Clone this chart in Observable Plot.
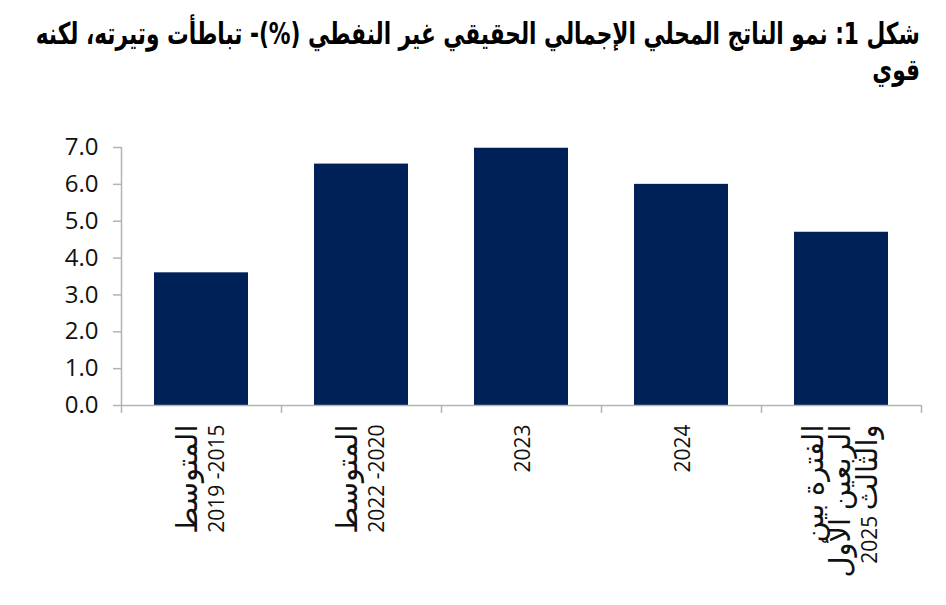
<!DOCTYPE html>
<html><head><meta charset="utf-8">
<script src="https://cdn.jsdelivr.net/npm/d3@7"></script>
<script src="https://cdn.jsdelivr.net/npm/@observablehq/plot@0.6"></script>
<style>
body{margin:0;background:#fff;width:946px;height:605px;overflow:hidden;}
#title{height:100px;position:relative;}
.tline{position:absolute;right:26px;white-space:nowrap;direction:rtl;font-family:"DejaVu Sans",sans-serif;font-weight:bold;font-size:30px;color:#000;transform-origin:100% 0;line-height:1;}
#chart svg{display:block;}
</style></head><body>
<div id="title"></div><div id="chart"></div>
<script>
const titleLines = ["شكل 1: نمو الناتج المحلي الإجمالي الحقيقي غير النفطي (%)- تباطأت وتيرته، لكنه", "قوي"];
const categories = ["المتوسط\n2019 -2015","المتوسط\n2022 -2020","2023","2024","الفترة بين\nالربعين الأول\nوالثالث 2025"];
const values = [3.6, 6.55, 6.98, 6.0, 4.7];
const yTicks = [0,1,2,3,4,5,6,7];

const AR = /[\u0600-\u06FF]/;
// title (right-to-left, right aligned)
const lineDivs = titleLines.map((t,i) => {
  const div = document.createElement("div");
  div.className = "tline";
  div.style.top = (19 + i*36) + "px";
  div.textContent = t;
  document.getElementById("title").appendChild(div);
  return div;
});
const sx = 884 / lineDivs[0].getBoundingClientRect().width;
lineDivs.forEach(d => d.style.transform = `scaleX(${sx})`);

const W = 946, H = 505, mL = 121, mR = 25;
const step = (W - mL - mR) / categories.length;
const data = categories.map((c,i)=>({c, v: values[i]}));
const gray = "#b3b3b3";
const chart = Plot.plot({
  width: W, height: H,
  marginLeft: mL, marginRight: mR, marginTop: 47, marginBottom: 200,
  style: {fontFamily: '"Open Sans","DejaVu Sans",sans-serif', color: "#000", background: "#fff"},
  x: {domain: categories, paddingInner: 0.41, paddingOuter: 0.205, label: null},
  y: {domain: [0,7], label: null},
  marks: [
    Plot.barY(data, {x: "c", y: "v", fill: "#002157"}),
    Plot.ruleY([0], {stroke: gray, strokeWidth: 1.5}),
    Plot.ruleX([categories[0]], {y1: 0, y2: 7, dx: -step/2, stroke: gray, strokeWidth: 1.5}),
    Plot.axisY(yTicks, {tickSize: 8, tickPadding: 15, tickFormat: d => d.toFixed(1), fontSize: 24, stroke: gray, strokeWidth: 1.5, fill: "#111"}),
    Plot.axisX({tickSize: 8, tickFormat: () => "", dx: -step/2, stroke: gray, strokeWidth: 1.5}),
    Plot.axisX([categories[categories.length-1]], {tickSize: 8, tickFormat: () => "", dx: step/2, stroke: gray, strokeWidth: 1.5}),
    Plot.axisX({tickSize: 0, tickRotate: -90, tickPadding: 19, fontSize: 21, lineHeight: 1.28, fill: "#111", ariaLabel: "x-labels"})
  ]
});
// enlarge Arabic runs within the category labels (reference uses a wider Arabic face)
const arabicRun = /([\u0600-\u06FF]+(?:\s+[\u0600-\u06FF]+)*)/;
d3.select(chart).selectAll('g[aria-label="x-labels tick label"] tspan').each(function(){
  const t = this.textContent;
  if (!AR.test(t)) { if (/^\d/.test(t)) this.textContent = "\u200E" + t; return; }
  this.textContent = "";
  t.split(arabicRun).filter(p => p.length).forEach(p => {
    const ts = document.createElementNS("http://www.w3.org/2000/svg", "tspan");
    ts.textContent = p;
    if (AR.test(p)) ts.setAttribute("font-size", 29);
    this.appendChild(ts);
  });
});
document.getElementById("chart").appendChild(chart);
</script>
</body></html>
